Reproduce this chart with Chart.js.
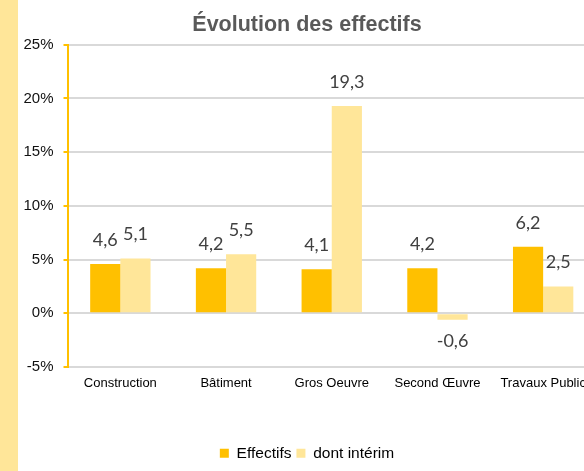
<!DOCTYPE html>
<html>
<head>
<meta charset="utf-8">
<script src="https://cdn.jsdelivr.net/npm/chart.js@4/dist/chart.umd.min.js"></script>
<style>
  body { margin: 0; width: 584px; height: 471px; overflow: hidden; background: #fff; position: relative; }
  #strip { position: absolute; left: 0; top: 0; width: 18px; height: 471px; background: #FFE699; }
  #wrap { position: absolute; left: 18px; top: 0; width: 600px; height: 471px; }
</style>
</head>
<body>
<div id="strip"></div>
<div id="wrap"><canvas id="chart"></canvas></div>
<script>
const categories = ['Construction', 'Bâtiment', 'Gros Oeuvre', 'Second Œuvre', 'Travaux Public'];
const effectifs = [4.6, 4.2, 4.1, 4.2, 6.2];
const interim = [5.1, 5.5, 19.3, -0.6, 2.5];
const yTicks = [-5, 0, 5, 10, 15, 20, 25];

// labels above/below each bar, french decimal comma
const valueLabels = {
    id: 'valueLabels',
    afterDatasetsDraw(chart) {
        const ctx = chart.ctx;
        ctx.save();
        ctx.font = '18px Lato';
        ctx.fillStyle = '#404040';
        ctx.textAlign = 'center';
        ctx.textBaseline = 'middle';
        chart.data.datasets.forEach((ds, i) => {
            chart.getDatasetMeta(i).data.forEach((bar, j) => {
                const v = ds.data[j];
                const txt = v.toFixed(1).replace('.', ',');
                const y = v >= 0 ? bar.y - 24 : bar.y + 21;
                ctx.fillText(txt, bar.x, y);
            });
        });
        ctx.restore();
    }
};

new Chart(document.getElementById('chart'), {
    type: 'bar',
    data: {
        labels: categories,
        datasets: [
            { label: 'Effectifs', data: effectifs, backgroundColor: '#FFC000' },
            { label: 'dont intérim', data: interim, backgroundColor: '#FFE699' }
        ]
    },
    options: {
        responsive: true,
        maintainAspectRatio: false,
        animation: false,
        categoryPercentage: 0.571,
        barPercentage: 1,
        layout: { padding: { top: 0, right: 22, bottom: 0, left: 0 } },
        plugins: {
            title: {
                display: true,
                text: 'Évolution des effectifs',
                color: '#595959',
                font: { family: 'Liberation Sans', size: 21.5, weight: 'bold' },
                padding: { top: 12, bottom: 7 }
            },
            legend: {
                position: 'bottom',
                labels: {
                    boxWidth: 9,
                    boxHeight: 9,
                    padding: 5,
                    color: '#000',
                    font: { family: 'Liberation Sans', size: 15.5 }
                }
            },
            tooltip: { enabled: false }
        },
        scales: {
            x: {
                grid: { display: false, drawTicks: false },
                border: { display: false },
                ticks: { color: '#000', padding: 9, font: { family: 'Liberation Sans', size: 13 }, maxRotation: 0, autoSkip: false },
                afterFit(scale) { scale.height = 73.5; }
            },
            y: {
                min: -5,
                max: 25,
                afterBuildTicks(scale) { scale.ticks = yTicks.map(v => ({ value: v })); },
                grid: { color: '#d9d9d9', lineWidth: 2, tickColor: '#FFC000', tickLength: 4 },
                border: { color: '#FFC000', width: 2 },
                ticks: {
                    color: '#111',
                    padding: 10,
                    font: { family: 'Liberation Sans', size: 15 },
                    callback: v => v + '%'
                },
                afterFit(scale) { scale.width = 49.5; }
            }
        }
    },
    plugins: [valueLabels]
});
</script>
</body>
</html>
